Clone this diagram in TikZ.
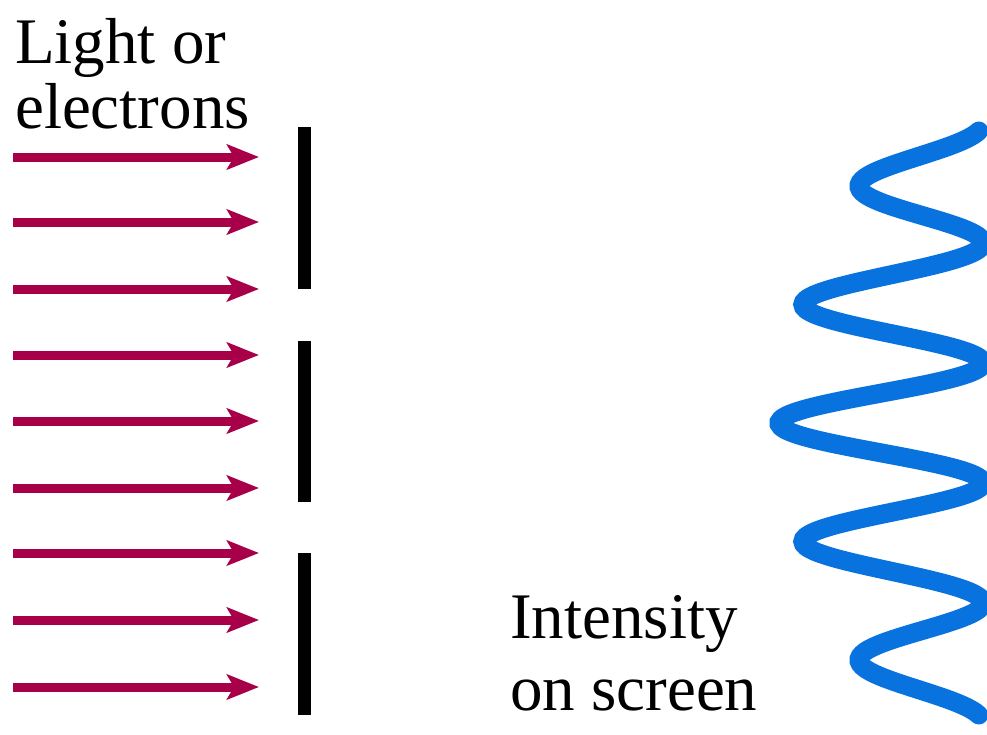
\documentclass[tikz,border=0pt]{standalone}
\usepackage{fontspec}
\setmainfont{Liberation Serif}
\usetikzlibrary{arrows.meta}
\definecolor{beamred}{RGB}{168,0,72}
\definecolor{waveblue}{RGB}{8,114,222}
\tikzset{
  beam/.style={draw=beamred, line width=9pt,
    -{Stealth[length=32pt,width=25pt,inset=7pt,fill=beamred]}},
  slitbar/.style={draw=black, line width=13pt},
  lbl/.style={inner sep=0pt, anchor=base west, font=\fontsize{65}{65}\selectfont},
  wave/.style={draw=waveblue, line width=19pt, line cap=round}
}
\begin{document}
\begin{tikzpicture}[x=1pt,y=-1pt]
\useasboundingbox (0,0) rectangle (987,734);
\fill[white] (0,0) rectangle (987,734);
% labels
\node[lbl] (l1) at (15,63) {Light or};
\node[lbl] (l2) at (15,128) {electrons};
\node[lbl] (i1) at (510,638) {Intensity};
\node[lbl] (i2) at (510,710) {on screen};
% arrows
\foreach \y [count=\i] in {157,222,289,355,421,488,553,620,687}{
  \coordinate (s\i) at (13,\y);
  \coordinate (e\i) at (259,\y);
  \draw[beam] (s\i) -- (e\i);
}
% barriers
\coordinate (b1t) at (304.5,127); \coordinate (b1b) at (304.5,289);
\coordinate (b2t) at (304.5,341); \coordinate (b2b) at (304.5,502);
\coordinate (b3t) at (304.5,553); \coordinate (b3b) at (304.5,715);
\draw[slitbar] (b1t) -- (b1b);
\draw[slitbar] (b2t) -- (b2b);
\draw[slitbar] (b3t) -- (b3b);
% intensity wave
\draw[wave] plot[domain=131:715, samples=240, smooth, variable=\t]
  ({983 - 204*exp(-((\t-423)/338)^2)*(cos(1.5*(\t-183)))^2}, {\t});
\end{tikzpicture}
\end{document}
